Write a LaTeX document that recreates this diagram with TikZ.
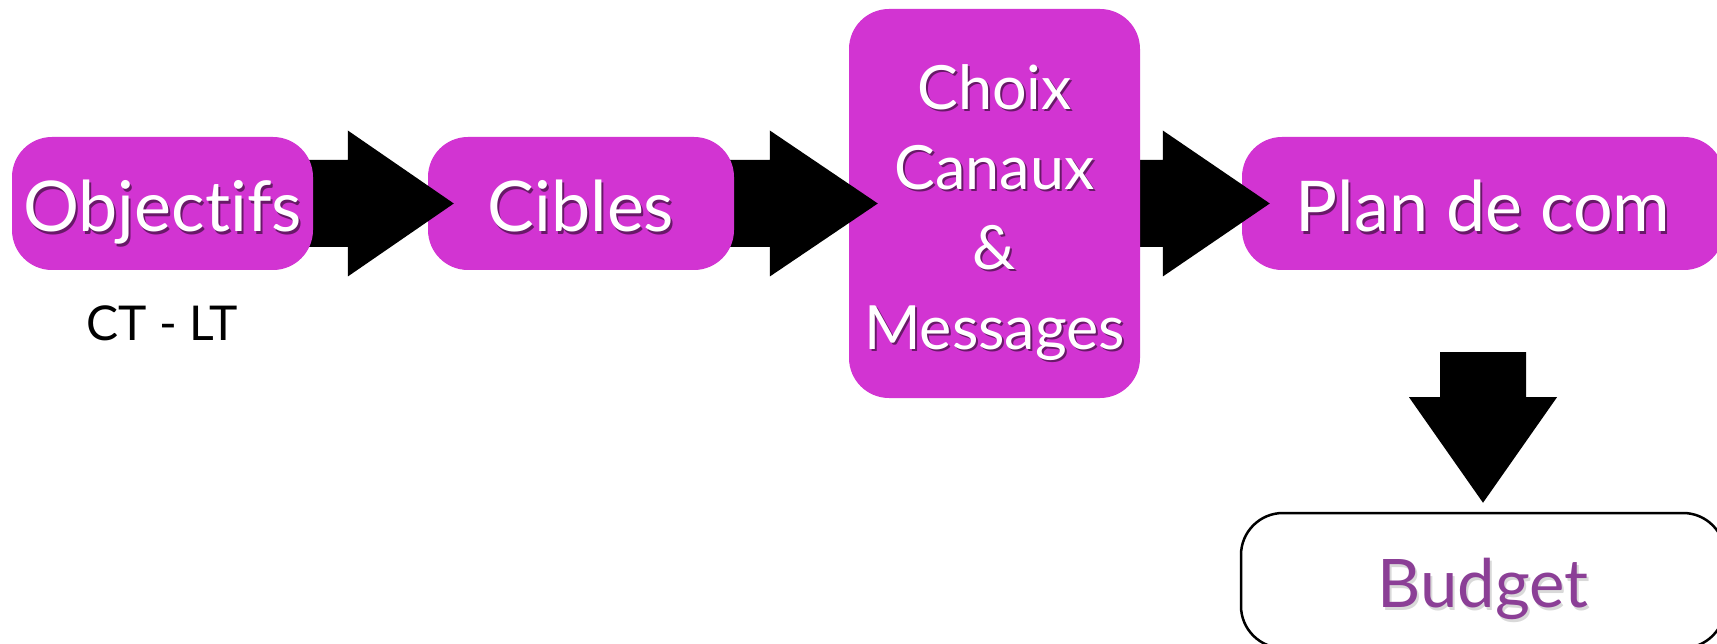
\documentclass[tikz,border=0pt]{standalone}
\usepackage{fontspec}
\setmainfont{Lato}[Ligatures={NoCommon,NoRare,NoContextual}]
\usetikzlibrary{calc}
\definecolor{boxmag}{RGB}{210,52,210}
\definecolor{budpurple}{RGB}{139,63,150}
\pgfdeclarelayer{bg}
\pgfdeclarelayer{l1}\pgfdeclarelayer{l2}\pgfdeclarelayer{l3}
\pgfdeclarelayer{l4}\pgfdeclarelayer{l5}\pgfdeclarelayer{l6}
\pgfsetlayers{bg,l1,l2,l3,l4,l5,l6,main}
\begin{document}
\begin{tikzpicture}[x=1pt,y=-1pt,
  magbox/.style={fill=boxmag, rounded corners=40pt, inner sep=0pt},
  bigtxt/.style={text=white, inner sep=0pt, anchor=base, font=\fontsize{70}{84}\selectfont},
  shtxt/.style={text=black, text opacity=0.5, inner sep=0pt, anchor=base, font=\fontsize{70}{84}\selectfont},
  multxt/.style={text=white, inner sep=0pt, align=center, font=\fontsize{61}{80}\selectfont},
  mulsh/.style={text=black, text opacity=0.5, inner sep=0pt, align=center, font=\fontsize{61}{80}\selectfont},
  blockarrow/.style={fill=black}]
\useasboundingbox (0,0) rectangle (1717,644);
\begin{pgfonlayer}{bg}
  \fill[white] (0,0) rectangle (1717,644);
\end{pgfonlayer}
% boxes
\begin{pgfonlayer}{l1}
  \node[magbox, minimum width=482pt, minimum height=133pt] (plan) at (1483,203.5) {};
  \node[shtxt] (plans) at ($(plan.center)+(2,31)$) {Plan de com};
  \node[bigtxt] (plant) at ($(plan.center)+(0,28.5)$) {Plan de com};
\end{pgfonlayer}
\begin{pgfonlayer}{l3}
  \node[magbox, minimum width=291pt, minimum height=389pt] (choix) at (994.5,203.5) {};
  \node[mulsh] (choixs) at ($(choix.center)+(2,11.5)$) {Choix\\Canaux\\\&\\Messages};
  \node[multxt] (choixt) at ($(choix.center)+(0,9)$) {Choix\\Canaux\\\&\\Messages};
\end{pgfonlayer}
\begin{pgfonlayer}{l5}
  \node[magbox, minimum width=306pt, minimum height=133pt] (cib) at (581,203.5) {};
  \node[shtxt] (cibs) at ($(cib.center)+(2,31)$) {Cibles};
  \node[bigtxt] (cibt) at ($(cib.center)+(0,28.5)$) {Cibles};
\end{pgfonlayer}
\node[magbox, minimum width=301pt, minimum height=133pt] (obj) at (162.5,203.5) {};
\node[shtxt] (objs) at ($(obj.center)+(2,31)$) {Objectifs};
\node[bigtxt] (objt) at ($(obj.center)+(0,28.5)$) {Objectifs};
\node[anchor=base, inner sep=0pt, font=\fontsize{48}{58}\selectfont] (ctlt) at ($(obj.center)+(0,137.5)$) {CT - LT};
% budget
\node[draw=black, line width=2.5pt, fill=white, rounded corners=42pt, minimum width=484pt, minimum height=135pt] (bud) at (1483,580.5) {};
\node[text=black, text opacity=0.15, inner sep=0pt, anchor=base, font=\fontsize{67}{80}\selectfont] (buds) at ($(bud.center)+(2,29.5)$) {Budget};
\node[text=budpurple, inner sep=0pt, anchor=base, font=\fontsize{67}{80}\selectfont] (budt) at ($(bud.center)+(0,27)$) {Budget};
% arrows
\begin{pgfonlayer}{l6}
  \fill[blockarrow] ($(obj.east)+(-15,-43.5)$) -- ($(cib.west)+(-80,-43.5)$) -- ($(cib.west)+(-80,-73)$) -- ($(cib.west)+(26,0)$) -- ($(cib.west)+(-80,73)$) -- ($(cib.west)+(-80,43.5)$) -- ($(obj.east)+(-15,43.5)$) -- cycle;
\end{pgfonlayer}
\begin{pgfonlayer}{l4}
  \fill[blockarrow] ($(cib.east)+(-15,-43.5)$) -- ($(choix.west)+(-79,-43.5)$) -- ($(choix.west)+(-79,-73)$) -- ($(choix.west)+(29,0)$) -- ($(choix.west)+(-79,73)$) -- ($(choix.west)+(-79,43.5)$) -- ($(cib.east)+(-15,43.5)$) -- cycle;
\end{pgfonlayer}
\begin{pgfonlayer}{l2}
  \fill[blockarrow] ($(choix.east)+(-15,-43.5)$) -- ($(plan.west)+(-79,-43.5)$) -- ($(plan.west)+(-79,-73)$) -- ($(plan.west)+(28,0)$) -- ($(plan.west)+(-79,73)$) -- ($(plan.west)+(-79,43.5)$) -- ($(choix.east)+(-15,43.5)$) -- cycle;
\end{pgfonlayer}
\fill[blockarrow] ($(plan.south)+(-43,82)$) -- ($(plan.south)+(-43,127)$) -- ($(plan.south)+(-74,127)$) -- ($(bud.north)+(0,-9)$) -- ($(plan.south)+(74,127)$) -- ($(plan.south)+(43,127)$) -- ($(plan.south)+(43,82)$) -- cycle;
\end{tikzpicture}
\end{document}
